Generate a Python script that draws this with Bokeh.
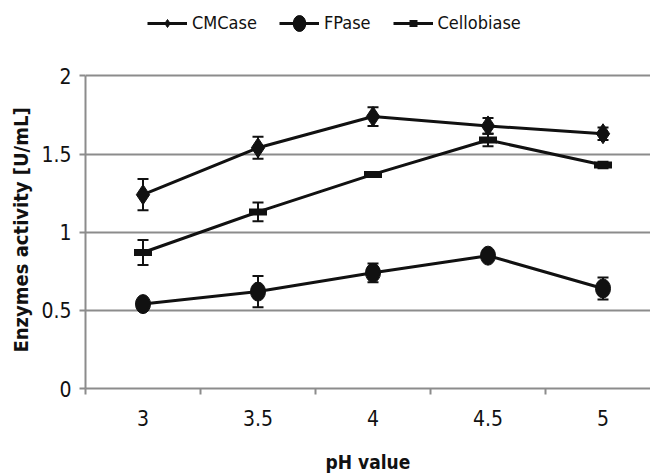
from bokeh.plotting import figure
from bokeh.models import (Range1d, FixedTicker, Whisker, TeeHead, ColumnDataSource,
                          Legend, LegendItem, Title)
from bokeh.embed import file_html
from bokeh.resources import INLINE

ph = [3, 3.5, 4, 4.5, 5]
xtick_labels = ["3", "3.5", "4", "4.5", "5"]
ytick_values = [0, 0.5, 1, 1.5, 2]
ytick_labels = ["0", "0.5", "1", "1.5", "2"]

cmcase = [1.24, 1.54, 1.74, 1.68, 1.63]
cmcase_err = [0.10, 0.07, 0.06, 0.05, 0.04]
fpase = [0.54, 0.62, 0.74, 0.85, 0.64]
fpase_err = [0.02, 0.10, 0.06, 0.03, 0.07]
cello = [0.87, 1.13, 1.37, 1.59, 1.43]
cello_err = [0.08, 0.06, 0.01, 0.04, 0.02]

FONT = "'DejaVu Sans Condensed', Roboto"
INK = "#111111"
GRID = "#8c8c8c"

p = figure(width=650, height=475, output_backend="svg", toolbar_location=None,
           x_range=Range1d(2.75, 5.2065), y_range=Range1d(0, 2.4825),
           min_border_left=85, min_border_right=0, min_border_top=0, min_border_bottom=84)
p.outline_line_color = None
p.background_fill_color = "white"

# axes
p.xaxis.ticker = FixedTicker(ticks=ph, minor_ticks=[2.75, 3.25, 3.75, 4.25, 4.75, 5.25])
p.xaxis.major_label_overrides = {v: l for v, l in zip(ph, xtick_labels)}
p.xaxis.major_tick_line_color = None
p.xaxis.minor_tick_line_color = GRID
p.xaxis.minor_tick_line_width = 2
p.xaxis.minor_tick_in = 0
p.xaxis.minor_tick_out = 6
p.xaxis.axis_line_color = GRID
p.xaxis.axis_line_width = 2
p.xaxis.major_label_standoff = 15
p.xaxis.axis_label = "pH value"
p.xaxis.axis_label_standoff = 22

p.yaxis.ticker = FixedTicker(ticks=ytick_values, minor_ticks=[])
p.yaxis.bounds = (0, 2)
p.yaxis.major_label_overrides = {v: l for v, l in zip(ytick_values, ytick_labels)}
p.yaxis.major_tick_line_color = GRID
p.yaxis.major_tick_line_width = 2
p.yaxis.major_tick_in = 0
p.yaxis.major_tick_out = 6
p.yaxis.axis_line_color = GRID
p.yaxis.axis_line_width = 2
p.yaxis.major_label_standoff = 8

for ax in (p.xaxis[0], p.yaxis[0]):
    ax.major_label_text_font = FONT
    ax.major_label_text_font_size = "21px"
    ax.major_label_text_color = INK
    ax.axis_label_text_font = FONT
    ax.axis_label_text_font_size = "19px"
    ax.axis_label_text_font_style = "bold"
    ax.axis_label_text_color = INK

# y-axis title, centred on the 0..2 span of the axis
ytitle = Title(text="Enzymes activity [U/mL]", align="left", offset=36,
               text_font=FONT, text_font_size="20px", text_font_style="bold",
               text_color=INK, standoff=11)
p.add_layout(ytitle, "left")

p.xgrid.grid_line_color = None
p.ygrid.ticker = FixedTicker(ticks=ytick_values)
p.ygrid.grid_line_color = GRID
p.ygrid.grid_line_width = 2

series = [
    ("CMCase", cmcase, cmcase_err, "diamond"),
    ("FPase", fpase, fpase_err, "ellipse"),
    ("Cellobiase", cello, cello_err, "dash"),
]

items = []
for name, vals, errs, mk in series:
    src = ColumnDataSource(dict(x=ph, y=vals,
                                upper=[v + e for v, e in zip(vals, errs)],
                                lower=[v - e for v, e in zip(vals, errs)]))
    ln = p.line("x", "y", source=src, line_color=INK, line_width=3)
    wk = Whisker(base="x", upper="upper", lower="lower", source=src,
                 line_color=INK, line_width=2,
                 upper_head=TeeHead(size=11, line_color=INK, line_width=2),
                 lower_head=TeeHead(size=11, line_color=INK, line_width=2))
    p.add_layout(wk)
    if mk == "diamond":
        mr = p.scatter("x", "y", source=src, marker="diamond", size=20,
                       fill_color=INK, line_color=INK)
    elif mk == "ellipse":
        mr = p.ellipse("x", "y", source=src, width=15, height=19,
                       width_units="screen", height_units="screen",
                       fill_color=INK, line_color=INK)
    else:
        mr = p.scatter("x", "y", source=src, marker="dash", size=18,
                       line_color=INK, line_width=7)
    items.append(LegendItem(label=name, renderers=[ln, mr]))

legend = Legend(items=items, orientation="horizontal", location=(62, 355),
                label_text_font=FONT, label_text_font_size="18px", label_text_color=INK,
                glyph_width=40, glyph_height=20, spacing=22, padding=0, margin=0,
                label_standoff=5, border_line_color=None, background_fill_alpha=0)
p.add_layout(legend, "center")

open("out.html", "w").write(file_html(p, INLINE))
